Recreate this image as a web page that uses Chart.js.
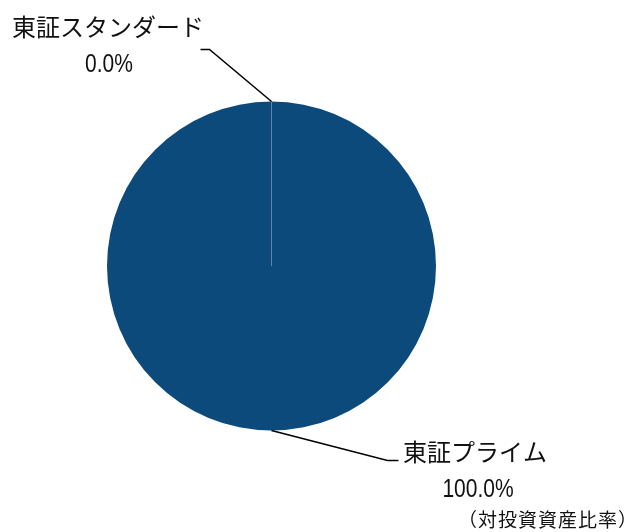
<!DOCTYPE html>
<html>
<head>
<meta charset="utf-8">
<script src="https://cdn.jsdelivr.net/npm/chart.js@4.4.1/dist/chart.umd.min.js"></script>
<style>
  html, body { margin: 0; padding: 0; background: #fff; }
  #wrap { width: 640px; height: 532px; }
</style>
</head>
<body>
<div id="wrap"><canvas id="pieChart" width="640" height="532"></canvas></div>
<script>
// 市場区分別 構成比（対投資資産比率）
var labels = ['東証スタンダード', '東証プライム'];
var values = [0.0, 100.0];
var colors = ['#0c4a7c', '#0c4a7c'];
var note = '（対投資資産比率）';

var jpFont = '"Noto Sans CJK JP", "Noto Sans", sans-serif';
var numFont = '"Liberation Sans", Arial, sans-serif';

// leader line + label layout for each slice (dx/dy from arc edge point)
var labelPlace = [
    { dx: -62, dy: -52, tail: -9, nameX: 108, nameY: 27, valX: 109, valY: 64, align: 'center' },
    { dx: 116, dy: 30, tail: 11, nameX: 403, nameY: 452, valX: 478, valY: 489, align: 'left' }
];

var labelPlugin = {
    id: 'sliceLabels',
    afterDatasetsDraw: function (chart) {
        var ctx = chart.ctx;
        var meta = chart.getDatasetMeta(0);
        var total = values.reduce(function (a, b) { return a + b; }, 0);
        ctx.save();

        // separator line where the slices meet
        meta.data.forEach(function (arc) {
            var p = arc.getProps(['x', 'y', 'startAngle', 'outerRadius'], true);
            ctx.beginPath();
            ctx.moveTo(p.x, p.y);
            ctx.lineTo(p.x + Math.cos(p.startAngle) * p.outerRadius, p.y + Math.sin(p.startAngle) * p.outerRadius);
            ctx.strokeStyle = '#5b86b1';
            ctx.lineWidth = 1;
            ctx.stroke();
        });

        meta.data.forEach(function (arc, i) {
            var p = arc.getProps(['x', 'y', 'startAngle', 'endAngle', 'outerRadius'], true);
            var mid = (p.startAngle + p.endAngle) / 2;
            var ex = p.x + Math.cos(mid) * p.outerRadius;
            var ey = p.y + Math.sin(mid) * p.outerRadius;
            var lp = labelPlace[i];
            ctx.beginPath();
            ctx.moveTo(ex, ey);
            ctx.lineTo(ex + lp.dx, ey + lp.dy);
            ctx.lineTo(ex + lp.dx + lp.tail, ey + lp.dy);
            ctx.strokeStyle = '#000';
            ctx.lineWidth = 1.5;
            ctx.stroke();

            ctx.fillStyle = '#111';
            ctx.textBaseline = 'middle';
            ctx.textAlign = lp.align;
            ctx.font = '24px ' + jpFont;
            ctx.fillText(labels[i], lp.nameX, lp.nameY);

            // numbers are set in a condensed face in the original
            ctx.save();
            ctx.translate(lp.valX, lp.valY);
            ctx.scale(0.84, 1);
            ctx.textAlign = 'center';
            ctx.font = '25px ' + numFont;
            ctx.fillText((values[i] / total * 100).toFixed(1) + '%', 0, 1);
            ctx.restore();
        });

        ctx.textAlign = 'right';
        ctx.font = '19px ' + jpFont;
        ctx.letterSpacing = '1px';
        ctx.fillText(note, 638, 520);
        ctx.restore();
    }
};

var pieChart = new Chart(document.getElementById('pieChart').getContext('2d'), {
    type: 'pie',
    data: {
        labels: labels,
        datasets: [{
            data: values,
            backgroundColor: colors,
            borderWidth: 0
        }]
    },
    options: {
        responsive: false,
        animation: false,
        layout: { padding: { left: 107, right: 204, top: 101, bottom: 101 } },
        plugins: {
            legend: { display: false },
            tooltip: { enabled: false }
        }
    },
    plugins: [labelPlugin]
});
</script>
</body>
</html>
